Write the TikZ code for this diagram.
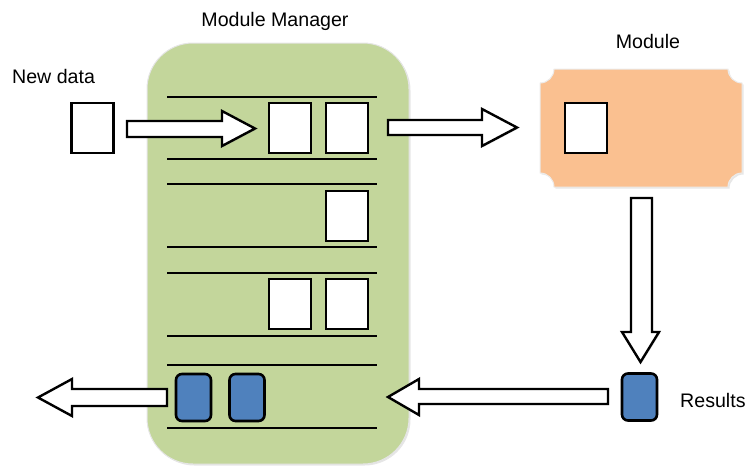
\documentclass[tikz,border=0pt]{standalone}
\usepackage{fontspec}
\setmainfont{Liberation Sans}
\usetikzlibrary{shadows}
\definecolor{mgrgreen}{HTML}{C3D69B}
\definecolor{modorange}{HTML}{FAC090}
\definecolor{resblue}{HTML}{4F81BD}
\tikzset{
  lbl/.style={font=\fontsize{19.6}{23}\selectfont, inner sep=0pt},
  softshadow/.style={drop shadow={opacity=0.25, shadow xshift=1.2pt, shadow yshift=-1.2pt}},
  databox/.style={draw=black, fill=white, line width=2.8pt, minimum width=42pt, minimum height=50pt, inner sep=0pt, softshadow},
  resbox/.style={draw=black, fill=resblue, line width=2.6pt, rounded corners=6pt, minimum width=35pt, minimum height=47pt, inner sep=0pt, softshadow},
  rowline/.style={line width=2.8pt},
  blockarrow/.style={draw=black, fill=white, line width=2.4pt, line join=miter, softshadow},
}
\begin{document}
\begin{tikzpicture}[x={(1pt,0)}, y={(0,-1pt)}]
\useasboundingbox (0,0) rectangle (746,467);

% module manager container
\fill[mgrgreen, draw=white!80!gray, line width=1pt, rounded corners=46pt, drop shadow={opacity=0.2, shadow xshift=1.5pt, shadow yshift=-1.5pt}]
  (147,43) rectangle (409,464);
\node[lbl, anchor=base] (mmlabel) at (275,26) {Module Manager};

% queue rows
\foreach \y in {97,159,184,247,273,336,365,428}
  \draw[rowline] (167,\y) -- (377,\y);

% queued data items
\node[databox] (q1a) at (290,128) {};
\node[databox] (q1b) at (347,128) {};
\node[databox] (q2b) at (347,216) {};
\node[databox] (q3a) at (290,304) {};
\node[databox] (q3b) at (347,304) {};
\node[resbox] (r4a) at (193.5,397.5) {};
\node[resbox] (r4b) at (247,397.5) {};

% incoming data
\node[lbl, anchor=base west] (ndlabel) at (12,83) {New data};
\node[databox] (nd) at (92.5,128) {};

% module
\path[fill=modorange, draw=white!85!gray, line width=1pt, drop shadow={opacity=0.2, shadow xshift=1.5pt, shadow yshift=-1.5pt}]
  (554,69) -- (728,69) .. controls (728,76.7) and (734.3,83) .. (742,83)
  -- (742,173) .. controls (734.3,173) and (728,179.3) .. (728,187)
  -- (554,187) .. controls (554,179.3) and (547.7,173) .. (540,173)
  -- (540,83) .. controls (547.7,83) and (554,76.7) .. (554,69) -- cycle;
\node[lbl, anchor=base] (modlabel) at (648,48) {Module};
\node[databox] (mitem) at (586,128) {};

% result
\node[resbox] (res) at (639.5,397) {};
\node[lbl, anchor=base west] (reslabel) at (680,407) {Results};

% block arrows
% new data -> manager
\path[blockarrow] (127,121) -- (222,121) -- (222,111) -- (255,128.5) -- (222,146) -- (222,137) -- (127,137) -- cycle;
% manager -> module
\path[blockarrow] (388,120) -- (482,120) -- (482,109) -- (517,127.5) -- (482,146) -- (482,135) -- (388,135) -- cycle;
% module -> result
\path[blockarrow] (631,198) -- (652,198) -- (652,332) -- (659,332) -- (640.5,362) -- (622,332) -- (631,332) -- cycle;
% result -> manager
\path[blockarrow] (608,389) -- (419,389) -- (419,379) -- (388,397) -- (419,415) -- (419,404) -- (608,404) -- cycle;
% manager -> out
\path[blockarrow] (167,389) -- (72,389) -- (72,379) -- (38,397.5) -- (72,416) -- (72,406) -- (167,406) -- cycle;
\end{tikzpicture}
\end{document}
